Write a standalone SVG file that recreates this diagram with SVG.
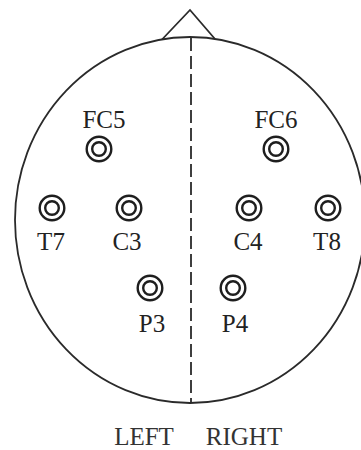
<svg xmlns="http://www.w3.org/2000/svg" width="361" height="450" viewBox="0 0 361 450">
<style>
.line{fill:none;stroke:#2a2a2a;stroke-width:1.8}
.el{fill:none;stroke:#1e1e1e;stroke-width:2.4}
.lbl{font-family:"Liberation Serif","Times New Roman",serif;font-size:25px;fill:#222;text-anchor:middle}
.side{font-family:"Liberation Serif","Times New Roman",serif;font-size:25px;fill:#333;text-anchor:middle}
</style>
<defs>
<g id="electrode">
<circle class="el" r="12.3"/>
<circle class="el" r="6.8"/>
</g>
</defs>
<rect width="361" height="450" fill="#fff"/>
<g id="head">
<ellipse class="line" cx="190" cy="220" rx="175" ry="183"/>
<polyline class="line" points="162,39.5 190,10 215,39"/>
</g>
<g id="connectors">
<line class="line" x1="191" y1="38" x2="191" y2="403" stroke-dasharray="13,5" stroke-width="2"/>
</g>
<g id="FC5"><use href="#electrode" x="99" y="149"/><text class="lbl" x="104" y="128">FC5</text></g>
<g id="FC6"><use href="#electrode" x="276" y="149"/><text class="lbl" x="276" y="128">FC6</text></g>
<g id="T7"><use href="#electrode" x="52" y="208"/><text class="lbl" x="51" y="250">T7</text></g>
<g id="C3"><use href="#electrode" x="129" y="208"/><text class="lbl" x="127" y="250">C3</text></g>
<g id="C4"><use href="#electrode" x="249" y="208"/><text class="lbl" x="248" y="250">C4</text></g>
<g id="T8"><use href="#electrode" x="328" y="208"/><text class="lbl" x="327" y="250">T8</text></g>
<g id="P3"><use href="#electrode" x="150" y="288"/><text class="lbl" x="152" y="332">P3</text></g>
<g id="P4"><use href="#electrode" x="233" y="288"/><text class="lbl" x="235" y="332">P4</text></g>
<g id="labels">
<text class="side" x="144" y="445">LEFT</text>
<text class="side" x="244" y="445">RIGHT</text>
</g>
</svg>
